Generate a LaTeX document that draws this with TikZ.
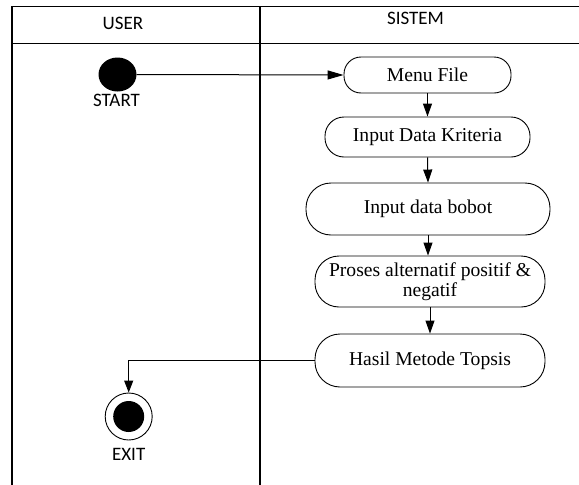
\documentclass[tikz,border=0pt]{standalone}
\usepackage{fontspec}
\setmainfont{Liberation Serif}
\newfontfamily\lanefont{Carlito}
\usetikzlibrary{arrows.meta,shapes.geometric}
\begin{document}
\begin{tikzpicture}[x=1pt,y=-1pt,
  frame/.style={line width=1.5pt},
  act/.style={draw, line width=0.9pt, rectangle, inner sep=0pt, align=center,
    font=\fontsize{19.6}{20.5}\selectfont},
  flow/.style={line width=1pt, -{Triangle[length=13pt,width=9pt]}},
  lbl/.style={font=\lanefont\fontsize{19}{21}\selectfont, inner sep=0pt, anchor=base}]
\useasboundingbox (0,0) rectangle (579,485);
% frame
\draw[frame] (12,485) -- (12,6.3) -- (579,6.3);
\draw[frame] (12,43.3) -- (579,43.3);
\draw[frame] (260,6.3) -- (260,485);
\node[lbl] (user) at (123,29.3) {USER};
\node[lbl] (sistem) at (415.5,24.3) {SISTEM};
% start / exit
\node[ellipse, fill=black, minimum width=38pt, minimum height=34pt, inner sep=0pt] (start) at (117.5,74.5) {};
\node[lbl] (startl) at (116.5,106.7) {START};
\node[circle, draw, line width=0.9pt, minimum size=47pt, inner sep=0pt] (exit) at (128.7,416.5) {};
\fill (exit.center) circle (15.5pt);
\node[lbl] (exitl) at (128.7,460.7) {EXIT};
% activities
\node[act, minimum width=167pt, minimum height=36pt, rounded corners=17pt] (menu) at (427.5,75) {Menu File};
\node[act, minimum width=205pt, minimum height=40pt, rounded corners=19pt] (krit) at (427.5,137) {Input Data Kriteria};
\node[act, minimum width=244pt, minimum height=52pt, rounded corners=25pt] (bobot) at (428,209) {Input data bobot};
\node[act, minimum width=230pt, minimum height=51pt, rounded corners=24pt] (proses) at (430,281.5) {Proses alternatif positif \&\\negatif};
\node[act, minimum width=230pt, minimum height=53pt, rounded corners=25pt] (hasil) at (430,360.5) {Hasil Metode Topsis};
% flows
\draw[line width=1pt, -{Triangle[length=16pt,width=9pt]}] (start.east) -- (menu.west);
\draw[flow] (menu.south) -- (krit.north);
\draw[flow] (krit.south) -- (bobot.north);
\draw[flow] (bobot.south) -- (bobot.south |- proses.north);
\draw[flow] (proses.south) -- (hasil.north);
\draw[line width=1pt, -{Triangle[length=12pt,width=9pt]}] (hasil.west) -| (exit.north);
\end{tikzpicture}
\end{document}
